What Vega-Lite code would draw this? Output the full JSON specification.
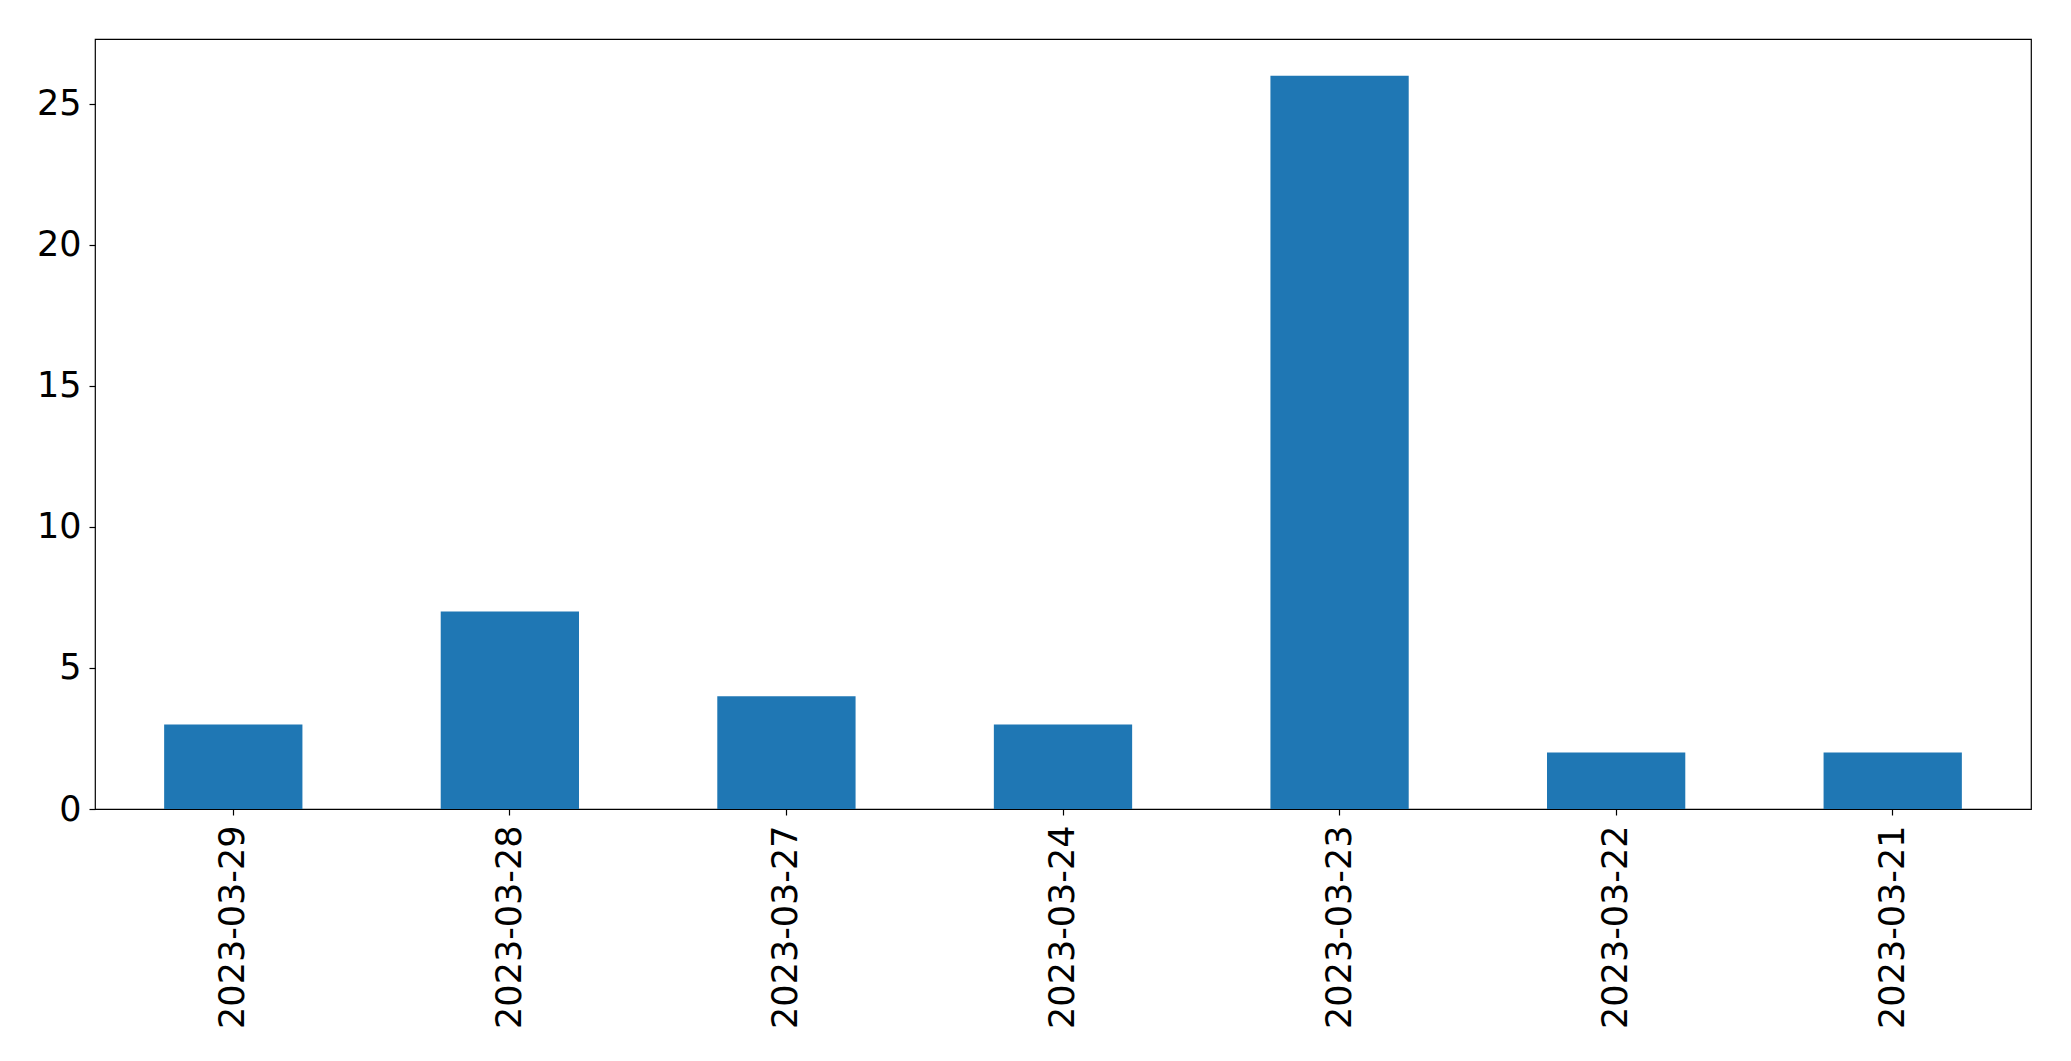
{
  "$schema": "https://vega.github.io/schema/vega-lite/v6.json",
  "autosize": "none",
  "padding": {"left": 95, "top": 39, "right": 40, "bottom": 252},
  "width": 1936,
  "height": 770,
  "background": "white",
  "config": {
    "view": {"stroke": "#000000", "strokeWidth": 1.2},
    "font": "DejaVu Sans",
    "axis": {
      "labelFont": "DejaVu Sans",
      "labelFontSize": 35,
      "labelColor": "#000000",
      "labelLimit": 0,
      "tickColor": "#000000",
      "tickSize": 6,
      "tickWidth": 1.2,
      "domain": false,
      "grid": false,
      "title": null
    }
  },
  "data": {
    "values": [
      {"date": "2023-03-29", "count": 3},
      {"date": "2023-03-28", "count": 7},
      {"date": "2023-03-27", "count": 4},
      {"date": "2023-03-24", "count": 3},
      {"date": "2023-03-23", "count": 26},
      {"date": "2023-03-22", "count": 2},
      {"date": "2023-03-21", "count": 2}
    ]
  },
  "mark": {"type": "bar", "color": "#1f77b4"},
  "encoding": {
    "x": {
      "field": "date",
      "type": "nominal",
      "sort": null,
      "scale": {"paddingInner": 0.5, "paddingOuter": 0.25},
      "axis": {"labelAngle": -90, "labelPadding": 10}
    },
    "y": {
      "field": "count",
      "type": "quantitative",
      "scale": {"domain": [0, 27.3], "nice": false, "zero": true},
      "axis": {"values": [0, 5, 10, 15, 20, 25], "labelPadding": 8}
    }
  }
}
